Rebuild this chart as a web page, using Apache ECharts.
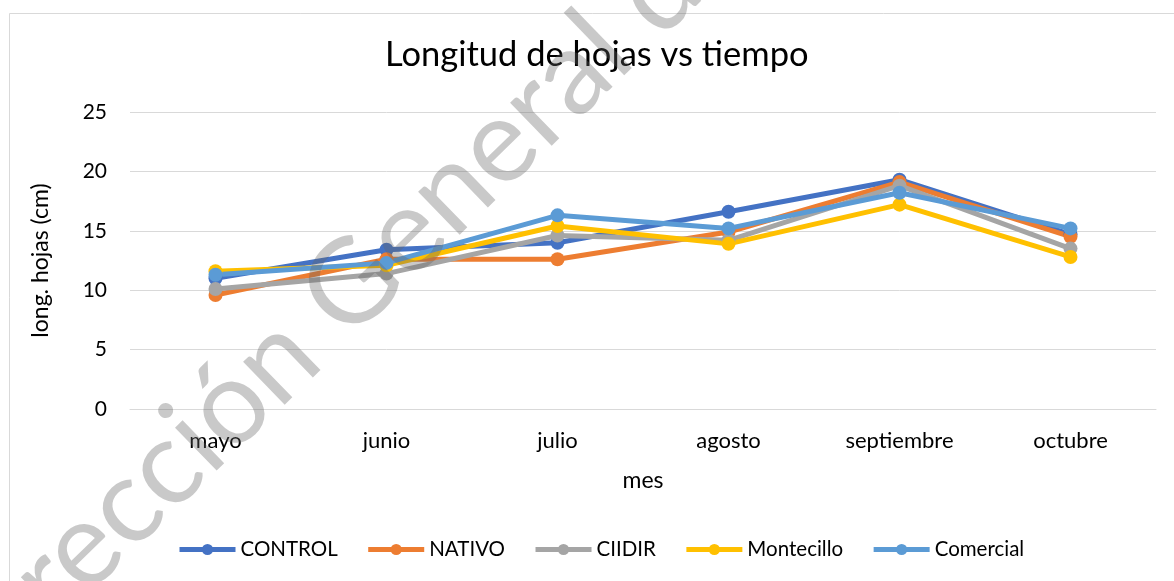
<!DOCTYPE html>
<html>
<head>
<meta charset="utf-8">
<script src="https://cdn.jsdelivr.net/npm/echarts@6/dist/echarts.min.js"></script>
<style>
html,body{margin:0;padding:0;background:#fff;}
#chart{width:1174px;height:581px;}
</style>
</head>
<body>
<div id="chart"></div>
<script>
const categories = ['mayo', 'junio', 'julio', 'agosto', 'septiembre', 'octubre'];
const seriesNames = ['CONTROL', 'NATIVO', 'CIIDIR', 'Montecillo', 'Comercial'];
const control    = [11.0, 13.4, 14.0, 16.6, 19.3, 14.7];
const nativo     = [9.6, 12.6, 12.6, 14.9, 19.1, 14.5];
const ciidir     = [10.1, 11.4, 14.6, 14.2, 18.8, 13.5];
const montecillo = [11.6, 12.1, 15.4, 13.9, 17.2, 12.8];
const comercial  = [11.3, 12.3, 16.3, 15.2, 18.2, 15.2];
const colors = ['#4472C4', '#ED7D31', '#A5A5A5', '#FFC000', '#5B9BD5'];
const values = [control, nativo, ciidir, montecillo, comercial];
const FONT = 'Lato';

const chart = echarts.init(document.getElementById('chart'), null, {renderer: 'canvas'});
chart.setOption({
  animation: false,
  backgroundColor: '#fff',
  color: colors,
  textStyle: {fontFamily: FONT},
  title: {
    text: 'Longitud de hojas vs tiempo',
    left: 385,
    top: 37,
    padding: 0,
    textStyle: {fontFamily: FONT, fontSize: 34.5, fontWeight: 'normal', color: '#000'}
  },
  legend: {
    bottom: 16,
    left: 172,
    itemWidth: 56,
    itemHeight: 14,
    itemGap: 28,
    lineStyle: {width: 5},
    textStyle: {fontFamily: FONT, fontSize: 20.5, color: '#000'},
    data: seriesNames
  },
  grid: {left: 130, right: 18, top: 112, bottom: 172},
  xAxis: {
    type: 'category',
    data: categories,
    name: 'mes',
    nameLocation: 'middle',
    nameGap: 60,
    nameTextStyle: {fontFamily: FONT, fontSize: 23, color: '#000'},
    axisLine: {show: true, lineStyle: {color: '#d9d9d9', width: 1}},
    axisTick: {show: false},
    axisLabel: {fontFamily: FONT, fontSize: 22, color: '#000', margin: 21}
  },
  yAxis: {
    type: 'value',
    min: 0,
    max: 25,
    interval: 5,
    name: 'long. hojas (cm)',
    nameLocation: 'middle',
    nameGap: 78,
    nameTextStyle: {fontFamily: FONT, fontSize: 23, color: '#000'},
    axisLine: {show: false},
    axisTick: {show: false},
    axisLabel: {fontFamily: FONT, fontSize: 21, color: '#000', margin: 23},
    splitLine: {lineStyle: {color: '#d9d9d9', width: 1}}
  },
  series: seriesNames.map((n, i) => ({
    name: n,
    type: 'line',
    data: values[i],
    symbol: 'circle',
    symbolSize: 14,
    lineStyle: {width: 5, color: colors[i]},
    itemStyle: {color: colors[i]}
  })),
  graphic: [
    {
      type: 'rect',
      shape: {x: 9.5, y: 13.5, width: 1200, height: 600},
      style: {fill: 'none', stroke: '#d9d9d9', lineWidth: 1},
      silent: true,
      z: 0
    },
    {
      type: 'text',
      x: -54,
      y: 680,
      rotation: 0.77,
      silent: true,
      z: 100,
      style: {
        text: 'Dirección General de Bibliotecas',
        font: '118px Lato',
        fill: 'rgba(100,100,100,0.35)',
        textAlign: 'left',
        textVerticalAlign: 'middle'
      }
    }
  ]
});
</script>
</body>
</html>
